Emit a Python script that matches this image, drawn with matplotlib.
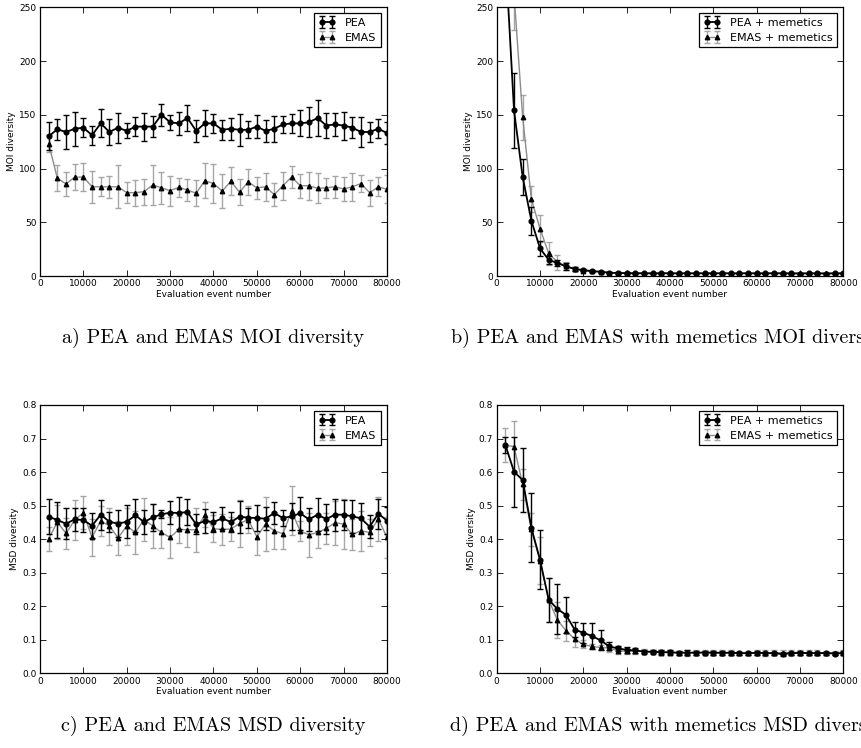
import matplotlib
matplotlib.use("Agg")
import matplotlib.pyplot as plt

# ---------------- data ----------------
x_events = [2000, 4000, 6000, 8000, 10000, 12000, 14000, 16000, 18000, 20000,
            22000, 24000, 26000, 28000, 30000, 32000, 34000, 36000, 38000, 40000,
            42000, 44000, 46000, 48000, 50000, 52000, 54000, 56000, 58000, 60000,
            62000, 64000, 66000, 68000, 70000, 72000, 74000, 76000, 78000, 80000]

# a) MOI diversity
pea_moi = [130, 136.5, 134, 137, 138, 131, 142, 134, 138, 135,
           139, 139, 139, 150, 143, 142, 147, 135, 142, 142,
           136, 137, 136, 136, 139, 135, 137, 141, 142, 142,
           143, 147, 140, 141, 140, 138, 134, 134, 137, 133]
pea_moi_err = [13, 10, 16, 16, 9, 9, 13, 12, 14, 7,
               9, 13, 10, 10, 7, 11, 12, 10, 12, 9,
               9, 10, 15, 8, 11, 10, 12, 8, 9, 12,
               14, 17, 12, 11, 13, 10, 14, 9, 9, 10]
emas_moi = [123, 91, 85.6, 92, 92, 83, 83, 83, 83, 77.5,
            77.5, 78.5, 84.7, 82, 79.4, 82.5, 80, 77, 88.7, 86,
            79, 88, 78, 87.5, 82, 83, 75.7, 84, 92, 84,
            84, 81.6, 82, 83, 81, 83, 86, 77.5, 83, 80.6]
emas_moi_err = [8, 12, 11, 12, 13, 15, 9, 10, 20, 10,
                12, 12, 19, 15, 14, 9, 10, 12, 16, 18,
                16, 13, 12, 12, 10, 13, 11, 13, 10, 11,
                13, 14, 9, 10, 11, 13, 8, 12, 9, 13]

# b) MOI diversity with memetics
pea_mem_moi = [300, 154, 92, 51.5, 25.7, 15, 12, 9, 6.5, 5.5,
               4.5, 4, 3, 2.8, 2.6, 2.5, 2.5, 2.4, 2.5, 2.5,
               2.4, 2.5, 2.4, 2.5, 2.4, 2.5, 2.4, 2.4, 2.5, 2.4,
               2.4, 2.5, 2.4, 2.4, 2.3, 2.4, 2.4, 2.3, 2.4, 2.4]
pea_mem_moi_err = [40, 35, 17, 13, 7, 4, 3, 3, 1.5, 1,
                   1, 0.8, 0.6, 0.5, 0.5, 0.4, 0.4, 0.4, 0.4, 0.4,
                   0.4, 0.4, 0.4, 0.4, 0.4, 0.4, 0.4, 0.4, 0.4, 0.4,
                   0.4, 0.4, 0.4, 0.4, 0.4, 0.4, 0.4, 0.4, 0.4, 0.4]
emas_mem_moi = [420, 262, 147.6, 71.6, 44, 21, 13, 9.3, 6.5, 5,
                4.3, 3.7, 3.2, 3, 2.9, 2.8, 2.8, 2.8, 2.7, 2.8,
                2.7, 2.8, 2.7, 2.7, 2.8, 2.7, 2.7, 2.8, 2.7, 2.7,
                2.7, 2.8, 2.7, 2.7, 2.7, 2.7, 2.7, 2.7, 2.7, 2.7]
emas_mem_moi_err = [50, 33, 21, 12.5, 12.4, 11, 7, 4, 2, 1.5,
                    1, 0.8, 0.6, 0.5, 0.5, 0.4, 0.4, 0.4, 0.4, 0.4,
                    0.4, 0.4, 0.4, 0.4, 0.4, 0.4, 0.4, 0.4, 0.4, 0.4,
                    0.4, 0.4, 0.4, 0.4, 0.4, 0.4, 0.4, 0.4, 0.4, 0.4]

# c) MSD diversity
pea_msd = [0.467, 0.457, 0.446, 0.459, 0.457, 0.440, 0.473, 0.452, 0.446, 0.452,
           0.471, 0.451, 0.465, 0.474, 0.479, 0.478, 0.481, 0.444, 0.454, 0.451,
           0.462, 0.451, 0.467, 0.464, 0.463, 0.461, 0.478, 0.463, 0.468, 0.477,
           0.459, 0.473, 0.460, 0.473, 0.473, 0.468, 0.462, 0.437, 0.476, 0.455]
pea_msd_err = [0.052, 0.055, 0.047, 0.035, 0.037, 0.038, 0.045, 0.03, 0.04, 0.05,
               0.05, 0.037, 0.04, 0.012, 0.035, 0.048, 0.038, 0.03, 0.035, 0.03,
               0.033, 0.03, 0.048, 0.03, 0.04, 0.035, 0.032, 0.025, 0.04, 0.05,
               0.035, 0.05, 0.045, 0.048, 0.045, 0.05, 0.047, 0.035, 0.045, 0.04]
emas_msd = [0.401, 0.451, 0.417, 0.457, 0.479, 0.405, 0.455, 0.439, 0.404, 0.439,
            0.420, 0.459, 0.439, 0.420, 0.405, 0.429, 0.428, 0.428, 0.473, 0.431,
            0.429, 0.430, 0.447, 0.458, 0.407, 0.445, 0.425, 0.416, 0.484, 0.424,
            0.413, 0.420, 0.432, 0.449, 0.445, 0.414, 0.425, 0.420, 0.460, 0.405]
emas_msd_err = [0.035, 0.05, 0.047, 0.06, 0.05, 0.055, 0.045, 0.055, 0.05, 0.055,
                0.065, 0.065, 0.065, 0.045, 0.06, 0.04, 0.05, 0.065, 0.037, 0.04,
                0.045, 0.035, 0.07, 0.04, 0.055, 0.08, 0.055, 0.045, 0.073, 0.03,
                0.065, 0.045, 0.045, 0.065, 0.075, 0.045, 0.06, 0.04, 0.065, 0.06]

# d) MSD diversity with memetics
pea_mem_msd = [0.681, 0.601, 0.576, 0.434, 0.338, 0.219, 0.192, 0.174, 0.130, 0.121,
               0.111, 0.098, 0.080, 0.074, 0.070, 0.068, 0.065, 0.064, 0.063, 0.063,
               0.061, 0.062, 0.061, 0.062, 0.061, 0.061, 0.061, 0.060, 0.060, 0.061,
               0.060, 0.060, 0.057, 0.060, 0.061, 0.060, 0.060, 0.060, 0.059, 0.060]
pea_mem_msd_err = [0.024, 0.105, 0.095, 0.103, 0.088, 0.066, 0.075, 0.053, 0.022, 0.03,
                   0.04, 0.03, 0.012, 0.008, 0.008, 0.007, 0.005, 0.004, 0.005, 0.005,
                   0.005, 0.006, 0.005, 0.005, 0.005, 0.005, 0.005, 0.005, 0.004, 0.005,
                   0.005, 0.005, 0.005, 0.005, 0.005, 0.004, 0.005, 0.004, 0.004, 0.006]
emas_mem_msd = [0.680, 0.676, 0.563, 0.429, 0.336, 0.219, 0.159, 0.127, 0.102, 0.086,
                0.080, 0.077, 0.075, 0.067, 0.066, 0.066, 0.065, 0.063, 0.062, 0.062,
                0.061, 0.061, 0.062, 0.062, 0.062, 0.062, 0.062, 0.060, 0.061, 0.062,
                0.061, 0.061, 0.062, 0.062, 0.062, 0.061, 0.062, 0.061, 0.061, 0.062]
emas_mem_msd_err = [0.05, 0.075, 0.045, 0.05, 0.07, 0.065, 0.055, 0.03, 0.025, 0.012,
                    0.008, 0.008, 0.01, 0.01, 0.008, 0.007, 0.006, 0.006, 0.006, 0.006,
                    0.006, 0.008, 0.007, 0.008, 0.007, 0.007, 0.006, 0.006, 0.006, 0.007,
                    0.008, 0.007, 0.006, 0.006, 0.006, 0.007, 0.008, 0.006, 0.006, 0.008]

captions = ["a) PEA and EMAS MOI diversity",
            "b) PEA and EMAS with memetics MOI diversity",
            "c) PEA and EMAS MSD diversity",
            "d) PEA and EMAS with memetics MSD diversity"]

# ---------------- style ----------------
plt.rcParams.update({
    "font.family": "DejaVu Sans",
    "xtick.direction": "in", "ytick.direction": "in",
    "xtick.top": True, "ytick.right": True,
    "xtick.major.size": 4, "ytick.major.size": 4,
    "xtick.major.width": 0.6, "ytick.major.width": 0.6,
    "xtick.major.pad": 2.5, "ytick.major.pad": 2.5,
    "xtick.labelsize": 6.5, "ytick.labelsize": 6.5,
    "axes.linewidth": 0.9,
})

W, H = 862, 748
fig = plt.figure(figsize=(W / 100, H / 100), dpi=100)


def rect(l, r, t, b):
    return [l / W, (H - b) / H, (r - l) / W, (b - t) / H]


axes_rects = [rect(40, 387, 7.3, 276), rect(496.7, 843.3, 7.3, 276),
              rect(40, 387, 405, 673.3), rect(496.7, 843.3, 405, 673.3)]

panels = [
    (pea_moi, pea_moi_err, emas_moi, emas_moi_err, "PEA", "EMAS", "MOI diversity", 250, 50),
    (pea_mem_moi, pea_mem_moi_err, emas_mem_moi, emas_mem_moi_err,
     "PEA + memetics", "EMAS + memetics", "MOI diversity", 250, 50),
    (pea_msd, pea_msd_err, emas_msd, emas_msd_err, "PEA", "EMAS", "MSD diversity", 0.8, 0.1),
    (pea_mem_msd, pea_mem_msd_err, emas_mem_msd, emas_mem_msd_err,
     "PEA + memetics", "EMAS + memetics", "MSD diversity", 0.8, 0.1),
]

for r, (p, pe, e, ee, lp, le, ylab, ymax, ystep) in zip(axes_rects, panels):
    ax = fig.add_axes(r)
    ax.errorbar(x_events, e, yerr=ee, fmt="-^", color="0.55", lw=1.0,
                mfc="k", mec="k", ms=3.2, ecolor="0.65", elinewidth=1.0,
                capsize=2.5, capthick=1.0, label=le, zorder=2)
    ax.errorbar(x_events, p, yerr=pe, fmt="-o", color="k", lw=1.3,
                mfc="k", mec="k", ms=3.4, ecolor="k", elinewidth=1.0,
                capsize=2.5, capthick=1.0, label=lp, zorder=3)
    ax.set_xlim(0, 80000)
    ax.set_ylim(0, ymax)
    ax.set_xticks(range(0, 80001, 10000))
    n = int(round(ymax / ystep))
    ax.set_yticks([ystep * i for i in range(n + 1)])
    if ymax < 1:
        ax.set_yticklabels([f"{ystep * i:.1f}" for i in range(n + 1)])
    ax.set_xlabel("Evaluation event number", fontsize=6.5, labelpad=1)
    ax.set_ylabel(ylab, fontsize=6.5, labelpad=2)
    handles, labels = ax.get_legend_handles_labels()
    leg = ax.legend(handles[::-1], labels[::-1], loc="upper right", fontsize=8,
                    numpoints=2, handlelength=1.5, fancybox=False,
                    edgecolor="k", framealpha=1, borderaxespad=0.55,
                    labelspacing=0.45, handletextpad=0.9, borderpad=0.4)
    leg.get_frame().set_linewidth(0.9)

cap_pos = [(213.5, 338), (670, 338), (213.5, 726), (670, 726)]
for (cx, cy), txt in zip(cap_pos, captions):
    fig.text(cx / W, 1 - cy / H, txt, ha="center", va="center",
             fontsize=14.5, family="cmr10")

fig.savefig("out.png", dpi=100)
